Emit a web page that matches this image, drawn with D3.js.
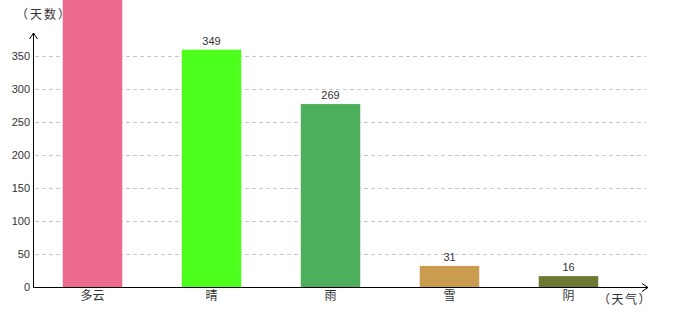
<!DOCTYPE html>
<html>
  <head>
    <meta charset="utf-8">
    <title>weather days</title>
    <style>
      body { margin: 0; background: #fff; }
      text { font-family: "Liberation Sans", Arial, sans-serif; fill: #333; }
      .cn { font-family: "Noto Sans CJK SC", sans-serif; }
    </style>
  </head>
  <body>
    <script src="https://d3js.org/d3.v7.min.js"></script>
    <script>
      const categories = ["多云", "晴", "雨", "雪", "阴"];
      const days = [460, 349, 269, 31, 16];
      const colors = ["#ec6a8c", "#4cff1c", "#4dae5b", "#c99c50", "#6b7a30"];
      const ticks = [0, 50, 100, 150, 200, 250, 300, 350];
      const yTitle = "（天数）";
      const xTitle = "（天气）";

      const width = 680, height = 320;
      const left = 33, bottom = 287, right = 648;

      const svg = d3.select("body").append("svg")
        .attr("width", width)
        .attr("height", height);

      const x = d3.scaleBand()
        .domain(categories)
        .range([left, 628])
        .paddingInner(0.5)
        .paddingOuter(0.25);

      // bars and the tick labels don't share quite the same scale in the original
      const y = d3.scaleLinear().domain([0, 350]).range([bottom, bottom - 238]);
      const yTick = d3.scaleLinear().domain([0, 350]).range([bottom, 56]);

      // grid
      svg.selectAll("line.grid")
        .data(ticks.slice(1))
        .enter()
        .append("line")
        .attr("class", "grid")
        .attr("x1", left + 2)
        .attr("x2", 646)
        .attr("y1", (d) => Math.round(yTick(d)) + 0.5)
        .attr("y2", (d) => Math.round(yTick(d)) + 0.5)
        .attr("stroke", "#c8c8c8")
        .attr("stroke-dasharray", "4,3");

      svg.selectAll("text.tick")
        .data(ticks)
        .enter()
        .append("text")
        .attr("class", "tick")
        .attr("x", 30)
        .attr("y", (d) => yTick(d) + 4)
        .attr("text-anchor", "end")
        .style("font-size", "11px")
        .text((d) => d);

      // bars
      svg.selectAll("rect")
        .data(days)
        .enter()
        .append("rect")
        .attr("x", (d, i) => x(categories[i]))
        .attr("y", (d) => Math.max(0, y(d)))
        .attr("width", x.bandwidth())
        .attr("height", (d) => bottom - Math.max(0, y(d)))
        .attr("fill", (d, i) => colors[i]);

      // value labels; the tallest bar runs off the top so its label isn't shown
      svg.selectAll("text.value")
        .data(days.map((d, i) => ({ v: d, c: categories[i] })).filter((d) => y(d.v) > 15))
        .enter()
        .append("text")
        .attr("class", "value")
        .attr("x", (d) => x(d.c) + x.bandwidth() / 2)
        .attr("y", (d) => y(d.v) - 5)
        .attr("text-anchor", "middle")
        .style("font-size", "11px")
        .text((d) => d.v);

      svg.selectAll("text.cat")
        .data(categories)
        .enter()
        .append("text")
        .attr("class", "cat cn")
        .attr("x", (d) => x(d) + x.bandwidth() / 2)
        .attr("y", 300)
        .attr("text-anchor", "middle")
        .style("font-size", "12px")
        .text((d) => d);

      // axes with open arrow heads
      svg.append("line")
        .attr("x1", left + 0.5).attr("x2", left + 0.5)
        .attr("y1", bottom).attr("y2", 33)
        .attr("stroke", "#000");
      svg.append("path")
        .attr("d", `M${left - 3.5},39 L${left + 0.5},33 L${left + 4.5},39`)
        .attr("fill", "none")
        .attr("stroke", "#000");

      svg.append("line")
        .attr("x1", left).attr("x2", right)
        .attr("y1", bottom + 0.5).attr("y2", bottom + 0.5)
        .attr("stroke", "#000");
      svg.append("path")
        .attr("d", `M${right - 6},${bottom - 3.5} L${right},${bottom + 0.5} L${right - 6},${bottom + 4.5}`)
        .attr("fill", "none")
        .attr("stroke", "#000");

      svg.append("text")
        .attr("class", "cn")
        .attr("x", 16)
        .attr("y", 19)
        .style("font-size", "12px")
        .style("letter-spacing", "2px")
        .text(yTitle);

      svg.append("text")
        .attr("class", "cn")
        .attr("x", 598)
        .attr("y", 304)
        .style("font-size", "12px")
        .style("letter-spacing", "1.5px")
        .text(xTitle);
    </script>
  </body>
</html>
